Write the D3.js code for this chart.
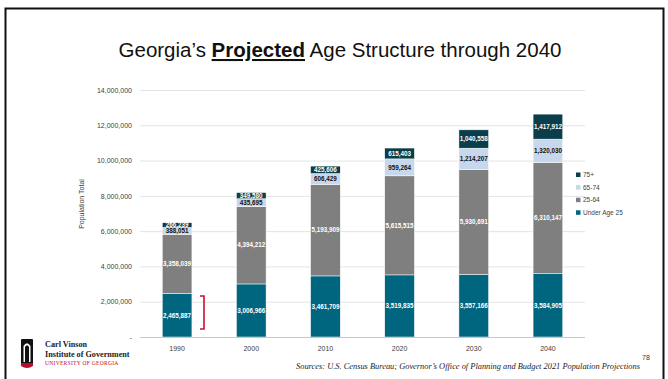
<!DOCTYPE html>
<html><head><meta charset="utf-8">
<script src="https://cdn.jsdelivr.net/npm/d3@7"></script>
<style>
html,body{margin:0;padding:0;background:#fff;}
svg{display:block;font-family:"Liberation Sans",Arial,sans-serif;}
</style></head>
<body>
<svg id="chart" width="668" height="379"></svg>
<script>
const years = ["1990","2000","2010","2020","2030","2040"];
const under25 = [2465887,3006966,3461709,3519835,3557166,3584905];
const age25_64 = [3358039,4394212,5193909,5615515,5930691,6310147];
const age65_74 = [388051,435695,606429,959264,1214207,1320030];
const age75plus = [266239,349580,425606,615403,1040558,1417912];
const seriesNames = ["Under Age 25","25-64","65-74","75+"];
const seriesColors = ["#00657e","#7f7f7f","#c7d8ec","#0a3e4a"];
const labelColors = ["#ffffff","#ffffff","#111111","#ffffff"];
const yTicks = [0,2000000,4000000,6000000,8000000,10000000,12000000,14000000];

const svg = d3.select("#chart");

// frame
svg.append("path").attr("d","M5.5,379 L5.5,8.5 L663.5,8.5 L663.5,379")
  .attr("fill","none").attr("stroke","#111").attr("stroke-width",2);

// title
const title = svg.append("text").attr("x",340).attr("y",57).attr("text-anchor","middle")
  .attr("font-size",20.5).attr("fill","#111");
title.append("tspan").text("Georgia\u2019s ");
title.append("tspan").attr("font-weight","bold").attr("text-decoration","underline").text("Projected");
title.append("tspan").text(" Age Structure through 2040");

const x = d3.scaleBand().domain(years).range([140,585]).paddingInner(0.6).paddingOuter(0.3);
const y = d3.scaleLinear().domain([0,14000000]).range([337,90]);

// grid
svg.append("g").selectAll("line").data(yTicks.slice(1)).join("line")
  .attr("x1",140).attr("x2",585).attr("y1",d=>y(d)+0.5).attr("y2",d=>y(d)+0.5)
  .attr("stroke","#e4e4e4").attr("stroke-width",1);

// y axis labels
const yAxis = d3.axisLeft(y).tickValues(yTicks).tickSize(0).tickPadding(0)
  .tickFormat(d=> d===0 ? "-" : d3.format(",")(d));
const ga = svg.append("g").attr("transform","translate(132,0)").call(yAxis);
ga.select(".domain").remove();
ga.selectAll("text").attr("font-size",7).attr("fill","#404040").attr("font-family","Liberation Sans, Arial, sans-serif");

// axis title
svg.append("text").attr("transform","translate(84,204) rotate(-90)").attr("text-anchor","middle")
  .attr("font-size",7).attr("fill","#404040").text("Population Total");

// stacked data
const rows = years.map((yr,i)=>({year:yr, "Under Age 25":under25[i], "25-64":age25_64[i], "65-74":age65_74[i], "75+":age75plus[i]}));
const stack = d3.stack().keys(seriesNames)(rows);

const gBars = svg.append("g");
stack.forEach((s,si)=>{
  const g = gBars.append("g");
  g.selectAll("rect").data(s).join("rect")
    .attr("x",d=>x(d.data.year)).attr("width",x.bandwidth())
    .attr("y",d=>y(d[1])).attr("height",d=>y(d[0])-y(d[1]))
    .attr("fill",seriesColors[si]).attr("stroke","#ffffff").attr("stroke-width",0.5);
});
stack.forEach((s,si)=>{
  const g = gBars.append("g");
  g.selectAll("text").data(s).join("text")
    .attr("x",d=>x(d.data.year)+x.bandwidth()/2)
    .attr("y",d=>(y(d[0])+y(d[1]))/2+2.3)
    .attr("text-anchor","middle").attr("font-size",6.3).attr("font-weight","bold")
    .attr("fill",labelColors[si])
    .text(d=>d3.format(",")(d[1]-d[0]));
});

// baseline
svg.append("line").attr("x1",140).attr("x2",585).attr("y1",337.5).attr("y2",337.5)
  .attr("stroke","#c8c8c8").attr("stroke-width",1);

// x axis labels
const xAxis = d3.axisBottom(x).tickSize(0).tickPadding(0);
const gx = svg.append("g").attr("transform","translate(0,346)").call(xAxis);
gx.select(".domain").remove();
gx.selectAll("text").attr("font-size",7).attr("fill","#404040").attr("font-family","Liberation Sans, Arial, sans-serif");

// legend
const legendOrder = [3,2,1,0];
const lg = svg.append("g");
legendOrder.forEach((si,k)=>{
  const ly = 175 + k*12.6;
  lg.append("rect").attr("x",576).attr("y",ly-2.5).attr("width",4.5).attr("height",4.5).attr("fill",seriesColors[si]);
  lg.append("text").attr("x",583).attr("y",ly+2.2).attr("font-size",6.5).attr("fill","#404040").text(seriesNames[si]);
});

// red bracket
svg.append("path").attr("d","M200,296 L204,296 L204,329 L200,329")
  .attr("fill","none").attr("stroke","#c8102e").attr("stroke-width",1.6);

// logo
const logo = svg.append("g");
logo.append("rect").attr("x",21).attr("y",339).attr("width",12).attr("height",25).attr("rx",1).attr("fill","#111");
logo.append("path").attr("d","M23.5,362 L23.5,346 Q27,340.5 30.5,346 L30.5,362 L29,362 L29,347 Q27,343.5 25,347 L25,362 Z").attr("fill","#fff");
logo.append("path").attr("d","M21,363 L33,363 L33,366 Q27,370 21,366 Z").attr("fill","#ba0c2f");
logo.append("text").attr("x",45).attr("y",347).attr("font-family","Liberation Serif, Times New Roman, serif")
  .attr("font-weight","bold").attr("font-size",8.2).attr("fill","#222").text("Carl Vinson");
logo.append("text").attr("x",45).attr("y",356.5).attr("font-family","Liberation Serif, Times New Roman, serif")
  .attr("font-weight","bold").attr("font-size",8.2).attr("fill","#222").text("Institute of Government");
logo.append("text").attr("x",45).attr("y",364.5).attr("font-family","Liberation Serif, Times New Roman, serif")
  .attr("font-size",5.5).attr("fill","#ba0c2f").attr("letter-spacing",0.3).text("UNIVERSITY OF GEORGIA");

// sources & page number
svg.append("text").attr("x",640).attr("y",369).attr("text-anchor","end")
  .attr("font-family","Liberation Serif, Times New Roman, serif").attr("font-style","italic")
  .attr("font-size",8.4).attr("fill","#222")
  .text("Sources:  U.S. Census Bureau; Governor\u2019s Office of Planning and Budget 2021 Population Projections");
svg.append("text").attr("x",642).attr("y",360).attr("font-size",7).attr("fill","#333").text("78");
</script>
</body></html>
